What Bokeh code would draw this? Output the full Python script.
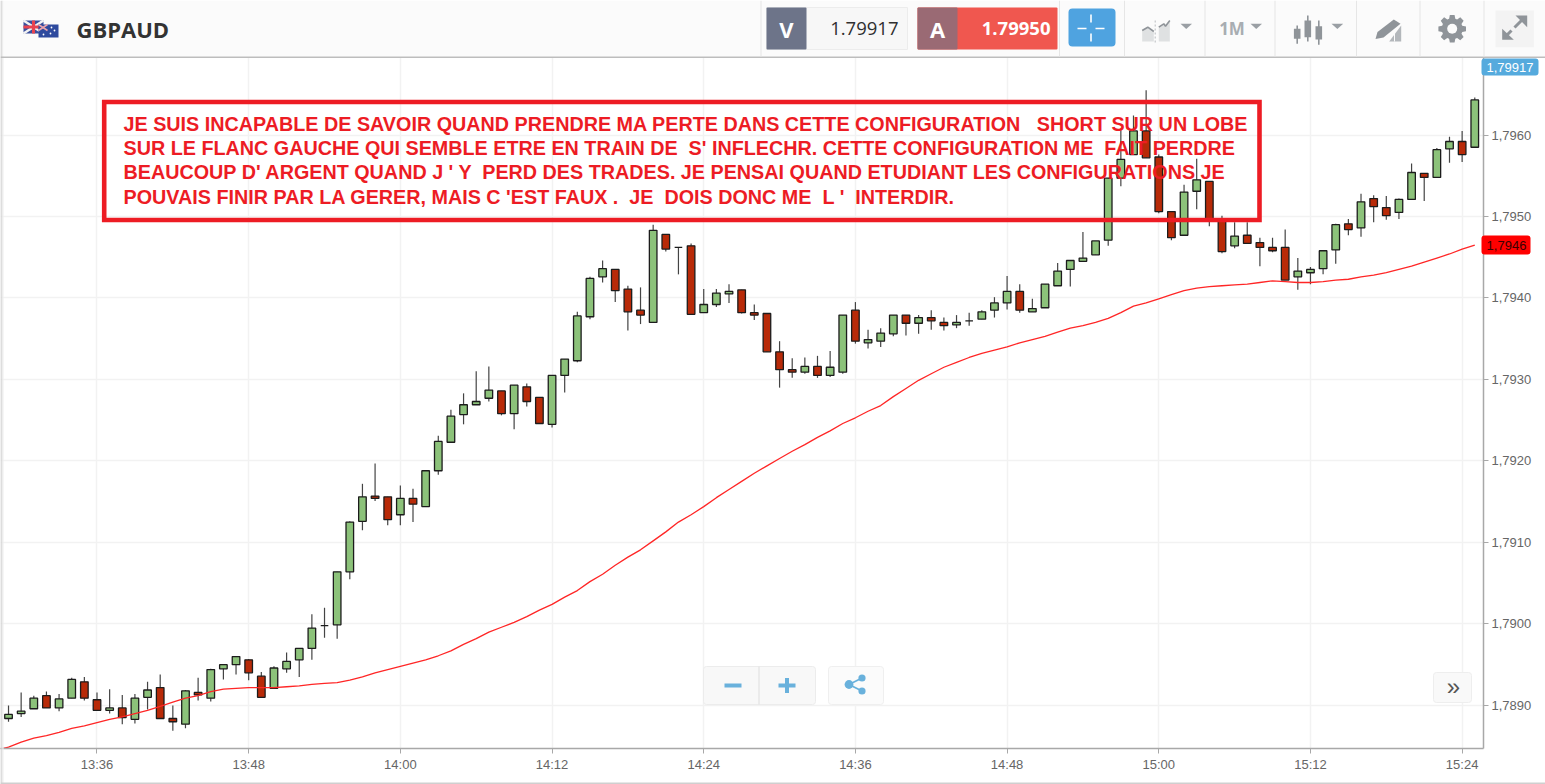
import math
from bokeh.plotting import figure
from bokeh.layouts import column
from bokeh.models import ColumnDataSource, Range1d, FixedTicker
from bokeh.core.properties import value
from bokeh.embed import file_html
from bokeh.resources import INLINE

symbol = "GBPAUD"
bid_price = "1.79917"
ask_price = "1.79950"
first_minute = 13 * 60 + 29  # 13:29

open_ = [1.78884,1.78890,1.78896,1.78912,1.78897,1.78909,1.78929,1.78907,1.78894,1.78897,1.78883,1.78910,1.78922,1.78884,1.78877,1.78916,1.78909,1.78945,1.78950,1.78956,
1.78936,1.78921,1.78945,1.78956,1.78970,1.78998,1.78999,1.79064,1.79126,1.79157,1.79156,1.79134,1.79154,1.79144,1.79188,1.79223,1.79257,1.79269,1.79277,1.79286,
1.79258,1.79291,1.79278,1.79245,1.79305,1.79323,1.79377,1.79426,1.79435,1.79411,1.79385,1.79370,1.79478,1.79462,1.79464,1.79382,1.79392,1.79405,1.79410,1.79382,
1.79381,1.79334,1.79312,1.79309,1.79316,1.79305,1.79309,1.79385,1.79345,1.79347,1.79356,1.79379,1.79369,1.79376,1.79370,1.79367,1.79372,1.79374,1.79385,1.79394,
1.79408,1.79383,1.79388,1.79415,1.79435,1.79445,1.79453,1.79471,1.79547,1.79576,1.79605,1.79573,1.79506,1.79477,1.79531,1.79543,1.79495,1.79464,1.79477,1.79468,
1.79462,1.79462,1.79426,1.79431,1.79436,1.79459,1.79491,1.79486,1.79522,1.79511,1.79505,1.79521,1.79553,1.79548,1.79583,1.79592,1.79585]
high = [1.78900,1.78916,1.78912,1.78917,1.78914,1.78934,1.78935,1.78916,1.78920,1.78913,1.78914,1.78929,1.78938,1.78900,1.78919,1.78934,1.78945,1.78950,1.78960,1.78957,
1.78941,1.78948,1.78965,1.78970,1.79012,1.79020,1.79064,1.79126,1.79172,1.79197,1.79156,1.79170,1.79166,1.79188,1.79231,1.79263,1.79283,1.79310,1.79316,1.79286,
1.79293,1.79295,1.79278,1.79305,1.79325,1.79383,1.79426,1.79446,1.79435,1.79415,1.79413,1.79490,1.79478,1.79462,1.79467,1.79411,1.79411,1.79417,1.79410,1.79392,
1.79381,1.79347,1.79326,1.79327,1.79329,1.79335,1.79379,1.79395,1.79361,1.79363,1.79379,1.79379,1.79379,1.79385,1.79376,1.79379,1.79382,1.79385,1.79401,1.79427,
1.79417,1.79399,1.79417,1.79443,1.79446,1.79481,1.79470,1.79547,1.79606,1.79624,1.79655,1.79576,1.79506,1.79539,1.79571,1.79543,1.79501,1.79493,1.79493,1.79474,
1.79474,1.79484,1.79449,1.79438,1.79458,1.79491,1.79497,1.79528,1.79526,1.79525,1.79522,1.79565,1.79553,1.79584,1.79598,1.79605,1.79646]
low = [1.78880,1.78886,1.78896,1.78897,1.78893,1.78909,1.78906,1.78894,1.78890,1.78877,1.78878,1.78895,1.78884,1.78869,1.78872,1.78906,1.78905,1.78932,1.78938,1.78931,
1.78910,1.78921,1.78940,1.78935,1.78956,1.78983,1.78982,1.79055,1.79115,1.79151,1.79121,1.79121,1.79125,1.79144,1.79183,1.79223,1.79245,1.79269,1.79273,1.79256,
1.79239,1.79267,1.79246,1.79241,1.79284,1.79321,1.79374,1.79419,1.79395,1.79360,1.79368,1.79370,1.79457,1.79429,1.79380,1.79382,1.79389,1.79394,1.79381,1.79373,
1.79334,1.79290,1.79302,1.79307,1.79302,1.79303,1.79307,1.79344,1.79338,1.79340,1.79353,1.79354,1.79356,1.79361,1.79360,1.79363,1.79366,1.79374,1.79376,1.79386,
1.79382,1.79383,1.79388,1.79415,1.79414,1.79445,1.79453,1.79464,1.79537,1.79576,1.79572,1.79504,1.79471,1.79477,1.79509,1.79488,1.79455,1.79461,1.79467,1.79439,
1.79456,1.79422,1.79410,1.79417,1.79429,1.79442,1.79477,1.79475,1.79493,1.79496,1.79497,1.79521,1.79519,1.79548,1.79566,1.79567,1.79585]
close = [1.78889,1.78893,1.78909,1.78897,1.78908,1.78932,1.78909,1.78894,1.78897,1.78885,1.78909,1.78919,1.78884,1.78880,1.78918,1.78913,1.78944,1.78950,1.78960,1.78940,
1.78910,1.78946,1.78954,1.78970,1.78995,1.78998,1.79064,1.79125,1.79156,1.79154,1.79128,1.79154,1.79147,1.79188,1.79224,1.79255,1.79269,1.79273,1.79287,1.79258,
1.79293,1.79273,1.79246,1.79305,1.79325,1.79378,1.79424,1.79436,1.79409,1.79383,1.79379,1.79483,1.79460,1.79462,1.79380,1.79392,1.79406,1.79408,1.79382,1.79379,
1.79334,1.79312,1.79309,1.79316,1.79305,1.79315,1.79379,1.79347,1.79349,1.79357,1.79379,1.79369,1.79376,1.79372,1.79366,1.79370,1.79372,1.79383,1.79394,1.79408,
1.79385,1.79387,1.79417,1.79433,1.79446,1.79449,1.79470,1.79547,1.79570,1.79605,1.79572,1.79506,1.79474,1.79530,1.79545,1.79495,1.79457,1.79476,1.79467,1.79462,
1.79458,1.79422,1.79433,1.79435,1.79458,1.79490,1.79484,1.79518,1.79512,1.79501,1.79521,1.79554,1.79548,1.79582,1.79592,1.79576,1.79643]
# one more reading than there are candles: the line enters the chart a minute earlier
moving_average = [1.78845,1.78849,1.78855,1.78860,1.78863,1.78867,1.78872,1.78875,1.78879,1.78883,1.78886,1.78890,1.78894,1.78899,1.78904,1.78909,1.78912,1.78917,1.78920,1.78921,1.78922,
1.78922,1.78922,1.78923,1.78924,1.78926,1.78927,1.78928,1.78931,1.78935,1.78940,1.78944,1.78948,1.78952,1.78956,1.78961,1.78967,1.78975,1.78982,1.78990,1.78996,
1.79002,1.79009,1.79017,1.79024,1.79033,1.79041,1.79052,1.79061,1.79072,1.79082,1.79091,1.79102,1.79113,1.79125,1.79134,1.79144,1.79155,1.79165,1.79175,1.79185,
1.79194,1.79203,1.79212,1.79220,1.79229,1.79237,1.79246,1.79253,1.79261,1.79268,1.79279,1.79289,1.79299,1.79307,1.79315,1.79321,1.79327,1.79332,1.79336,1.79340,
1.79345,1.79349,1.79353,1.79358,1.79363,1.79366,1.79370,1.79375,1.79382,1.79390,1.79394,1.79399,1.79404,1.79409,1.79412,1.79414,1.79415,1.79416,1.79417,1.79419,
1.79421,1.79420,1.79419,1.79419,1.79420,1.79422,1.79423,1.79426,1.79428,1.79431,1.79435,1.79439,1.79444,1.79449,1.79454,1.79460,1.79465]

price_ticks = [1.789, 1.790, 1.791, 1.792, 1.793, 1.794, 1.795, 1.796]
price_labels = ["1,7890", "1,7900", "1,7910", "1,7920", "1,7930", "1,7940", "1,7950", "1,7960"]
time_labels = ["13:36", "13:48", "14:00", "14:12", "14:24", "14:36", "14:48", "15:00", "15:12", "15:24"]
last_tag = "1,79917"
ma_tag = "1,7946"
note_lines = [
    "JE SUIS INCAPABLE DE SAVOIR QUAND PRENDRE MA PERTE DANS CETTE CONFIGURATION   SHORT SUR UN LOBE",
    "SUR LE FLANC GAUCHE QUI SEMBLE ETRE EN TRAIN DE  S' INFLECHR. CETTE CONFIGURATION ME  FAIT PERDRE",
    "BEAUCOUP D' ARGENT QUAND J ' Y  PERD DES TRADES. JE PENSAI QUAND ETUDIANT LES CONFIGURATIONS JE",
    "POUVAIS FINIR PAR LA GERER, MAIS C 'EST FAUX .  JE  DOIS DONC ME  L '  INTERDIR.",
]

GREEN, RED = "#8cc27a", "#b82a08"
ICON = "#8f9499"
minutes = [first_minute + i for i in range(len(close))]
ma_minutes = [first_minute - 1 + i for i in range(len(moving_average))]
src = ColumnDataSource(dict(
    minute=minutes, open=open_, high=high, low=low, close=close,
    color=[GREEN if c >= o else RED for o, c in zip(open_, close)],
))

W, H = 1545, 784
p = figure(width=W, height=H, output_backend="svg", toolbar_location=None,
           x_range=Range1d(808.366, 925.69), y_range=Range1d(1.788472, 1.796951),
           y_axis_location="right", min_border_left=0, min_border_top=57,
           min_border_right=62, min_border_bottom=36, background_fill_color="white",
           border_fill_color="white", outline_line_color=None, frame_align=False)

tick_minutes = [int(t[:2]) * 60 + int(t[3:]) for t in time_labels]
p.xaxis.ticker = FixedTicker(ticks=tick_minutes)
p.xaxis.major_label_overrides = dict(zip(tick_minutes, time_labels))
p.yaxis.ticker = FixedTicker(ticks=price_ticks)
p.yaxis.major_label_overrides = dict(zip(price_ticks, price_labels))
for ax in (p.xaxis, p.yaxis):
    ax.axis_line_color = "#a8a8a8"
    ax.axis_line_width = 1.5
    ax.major_tick_line_color = "#a8a8a8"
    ax.major_tick_out = 5
    ax.major_tick_in = 0
    ax.minor_tick_line_color = None
    ax.major_label_text_font = "Liberation Sans"
    ax.major_label_text_font_size = "13px"
    ax.major_label_text_color = "#666666"
    ax.major_label_standoff = 3
p.grid.grid_line_color = "#f2f2f2"
p.grid.grid_line_width = 1.5

p.segment("minute", "high", "minute", "low", source=src, line_color="#444444", line_width=1.2)
p.vbar(x="minute", width=0.6, top="open", bottom="close", source=src,
       fill_color="color", line_color="#1c1c1c", line_width=1.3)
p.line(ma_minutes, moving_average, line_color="#ff2626", line_width=1.3)

# ---- transparent sheet over the whole page for the trading-platform furniture (page pixels)
o = figure(width=W, height=H, output_backend="svg", toolbar_location=None,
           x_range=Range1d(0, W), y_range=Range1d(H, 0), x_axis_location=None, y_axis_location=None,
           min_border=0, outline_line_color=None, background_fill_alpha=0, border_fill_alpha=0,
           margin=(-H, 0, 0, 0), frame_align=False)
o.grid.visible = False

def box(x0, y0, x1, y1, fill=None, line=None, lw=1, radius=0):
    o.quad(left=[x0], right=[x1], top=[y0], bottom=[y1], fill_color=fill, fill_alpha=1 if fill else 0,
           line_color=line, line_alpha=1 if line else 0, line_width=lw, border_radius=radius, line_join="miter")
def poly(xs, ys, fill=None):
    o.patch(xs, ys, fill_color=fill, line_color=None)
def seg(x0, y0, x1, y1, color, w, dash="solid"):
    o.line([x0, x1], [y0, y1], line_color=color, line_width=w, line_dash=dash)
def disc(cx, cy, r, color):
    o.circle([cx], [cy], radius=r, fill_color=color, line_color=None)
def caret(x0, x1, y0, y1, color="#9a9fa4"):
    poly([x0, x1, (x0+x1)/2], [y0, y0, y1], fill=color)
def label(x, y, text, size, color, font="Liberation Sans", style="normal", align="center", baseline="middle"):
    o.text([x], [y], text=[text.replace("  ", " \u00a0")], text_font=value(font), text_font_size=f"{size}px",
           text_font_style=style, text_color=color, text_align=align, text_baseline=baseline)

# left edge shadow and bottom rule
for x0, c in ((0, "#c4c4c4"), (1, "#dadada"), (2, "#eeeeee")):
    box(x0, 0, x0+1, H, fill=c)
box(0, 782, W, 784, fill="#cfcfcf")

# header
box(3, 0, W, 56, fill="#fbfbfb")
box(0, 56, W, 57.5, fill="#bdbdbd")
for sx in (760, 1058.5, 1123.5, 1204, 1274, 1355.5, 1419, 1483):
    box(sx, 0, sx+1, 56, fill="#e6e6e6")

# flags
box(23, 20, 43, 33, fill="#3a4f9c")
seg(23, 20, 43, 33, "#f2f2f2", 2.5); seg(23, 33, 43, 20, "#f2f2f2", 2.5)
box(23, 25, 43, 28, fill="#e8434f"); box(31.5, 20, 34.5, 33, fill="#e8434f")
box(38, 24, 58, 37, fill="#2e4a9e")
seg(38, 24, 47, 30, "#e9a3ad", 1.6); seg(38, 30, 47, 24, "#e9a3ad", 1.6)
for sx, sy in ((51, 27), (54, 30), (50, 33), (43, 34)):
    disc(sx, sy, 0.9, "white")

label(76, 28, symbol, 22, "#333333", font="Open Sans", style="bold", align="left")

# bid / ask
box(766, 7, 907, 49, fill="#f7f7f7", line="#ececec")
box(766, 7, 806, 49, fill="#6d7489", radius=1)
label(786, 28, "V", 22, "white", font="Open Sans", style="bold")
label(898, 28, bid_price, 18.5, "#2f2f2f", font="Open Sans", align="right")
box(917, 7, 1057, 49, fill="#f0574f", radius=1)
box(917, 7, 957, 49, fill="#9a6a74", radius=1)
label(937, 28, "A", 22, "white", font="Open Sans", style="bold")
label(1050, 28, ask_price, 18.5, "white", font="Open Sans", style="bold", align="right")

# crosshair button
box(1068, 8, 1115, 46, fill="#4fa3e0", radius=4)
for a, b, c, d in ((1077, 28, 1086, 28), (1095, 28, 1104, 28), (1090.5, 14, 1090.5, 22), (1090.5, 33, 1090.5, 41)):
    seg(a, b, c, d, "white", 1.6)

# chart-type icon
poly([1141.7, 1141.7, 1147.3, 1153.3, 1153.3], [41, 30, 26.7, 31, 41], fill="#dfe1e2")
poly([1158.3, 1158.3, 1163.3, 1165, 1169.3, 1169.3], [41, 26.7, 23.3, 25.7, 20, 41], fill="#dfe1e2")
o.line([1141.7, 1147.3, 1153.3], [30, 26.7, 31], line_color=ICON, line_width=1.6)
o.line([1158.3, 1163.3, 1165, 1169.3], [26.7, 23.3, 25.7, 20], line_color=ICON, line_width=1.6)
seg(1154.7, 20, 1154.7, 42, "#b9bcbf", 1, dash="2 2")
caret(1180, 1191.5, 23.3, 28.5)
label(1231.5, 28, "1M", 17, "#a8adb2", font="Open Sans", style="bold")
caret(1250, 1261.5, 23.3, 28.5)

# candle icon
for cx_, t, b, bt, bb in ((1296.7, 25, 43.3, 28.3, 38.3), (1307.3, 15, 41, 20, 36.7), (1318.3, 20, 44.3, 25.7, 39)):
    seg(cx_, t, cx_, b, ICON, 1.6)
    box(cx_-3.3, bt, cx_+3.3, bb, fill=ICON)
caret(1331, 1342.7, 23.3, 28.5)

# drawing tool icon
poly([1388.7, 1400.7, 1400.7], [41, 41, 25], fill="#b3b7bb")
poly([1377, 1393.3, 1400, 1383, 1375], [31.5, 19, 23.3, 37, 38.5], fill=ICON)
seg(1394, 41, 1394, 31, "#fbfbfb", 1)

# gear
gx, gy = 1451.7, 28.3
gxs, gys = [], []
for i in range(8):
    for da, r in ((-0.30, 10.5), (-0.17, 14), (0.17, 14), (0.30, 10.5)):
        t = i*math.pi/4 + da
        gxs.append(gx + r*math.cos(t)); gys.append(gy + r*math.sin(t))
poly(gxs, gys, fill=ICON)
disc(gx, gy, 5, "#fbfbfb")

# expand icon
box(1495, 10, 1533.3, 46.7, fill="#f3f3f3")
seg(1505, 36, 1511, 30, ICON, 3)
seg(1514, 27, 1521, 20, ICON, 3)
poly([1515, 1526.7, 1526.7], [15, 15, 26.7], fill=ICON)
poly([1501.7, 1501.7, 1513.3], [28.3, 39.3, 39.3], fill=ICON)

# last price and MA tags
box(1481, 58, 1538, 75, fill="#55aadd", radius=3)
label(1509.5, 67, last_tag, 13, "white")
box(1481, 235, 1530, 254, fill="#ff0000", radius=3)
label(1506, 245, ma_tag, 13, "#3a0000")

# zoom and share buttons
box(703, 666, 815, 704, fill="#f8f8f8", line="#ececec", radius=3)
box(758, 666, 759, 704, fill="#dddddd")
box(724, 683, 741, 687, fill="#69b1dc")
box(778, 683, 795, 687, fill="#69b1dc")
box(784.5, 677.5, 788.5, 692.5, fill="#69b1dc")
box(828, 666, 883, 704, fill="#fbfbfb", line="#efefef", radius=3)
seg(848.5, 684, 861.5, 677.5, "#69b1dc", 1.8)
seg(848.5, 684, 861.5, 690.5, "#69b1dc", 1.8)
disc(848.5, 684, 4.4, "#69b1dc"); disc(861.5, 677.5, 3.6, "#69b1dc"); disc(861.5, 690.5, 3.6, "#69b1dc")
box(1433, 672, 1471, 702, fill="#f9f9f9", line="#eeeeee", radius=3)
label(1453, 686, "\u00bb", 24, "#555555")

# annotation box and note
box(103.7, 101.5, 1259, 219.5, line="#ed1c24", lw=4.6)
for ln, yy in zip(note_lines, (123.3, 147, 171, 196)):
    label(123, yy, ln, 19.75, "#ed1c24", style="bold", align="left")

page = column(p, o, spacing=0)
open("out.html", "w").write(file_html(page, INLINE))
